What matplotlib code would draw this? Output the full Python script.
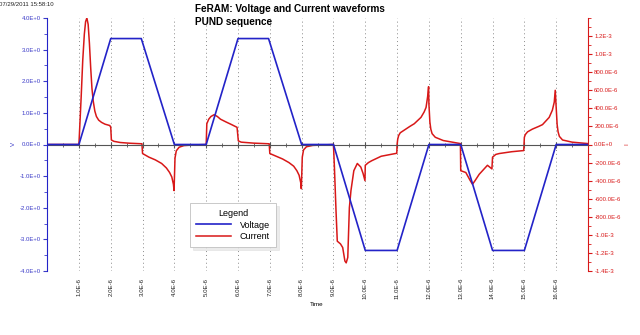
import matplotlib
matplotlib.use('Agg')
import matplotlib.pyplot as plt
from matplotlib.ticker import FuncFormatter, MultipleLocator, FixedLocator
import numpy as np

plt.rcParams['font.family'] = ['Liberation Sans', 'DejaVu Sans']

# voltage ramps of the PUND pulse train (time in us, volts)
volt_t = [0, 1.0, 2.0, 2.96, 4.0, 5.0, 6.0, 6.96, 8.0, 9.0, 10.0, 11.0, 12.0, 13.0, 14.0, 15.0, 16.0, 17.0]
volt_v = [0, 0, 3.35, 3.35, 0, 0, 3.35, 3.35, 0, 0, -3.35, -3.35, 0, 0, -3.35, -3.35, 0, 0]

# switching current (time in us, current in mA)
cur_t = [0, 1.0, 1.03, 1.07, 1.12, 1.17, 1.21, 1.25, 1.29, 1.33, 1.37, 1.41, 1.45, 1.50, 1.55, 1.62,
         1.71, 1.82, 1.97, 2.0, 2.02, 2.1, 2.3, 2.6, 2.98,
         3.0, 3.2, 3.4, 3.6, 3.75, 3.85, 3.92, 3.97, 3.99, 4.02, 4.06, 4.15, 4.3, 4.6, 5.0,
         5.02, 5.08, 5.15, 5.25, 5.35, 5.45, 5.62, 5.8, 5.97, 6.01, 6.1, 6.5, 6.98,
         7.0, 7.2, 7.4, 7.6, 7.75, 7.85, 7.92, 7.97, 7.99, 8.02, 8.06, 8.15, 8.35, 8.7, 9.0,
         9.03, 9.08, 9.12, 9.22, 9.29, 9.36, 9.40, 9.45, 9.50, 9.55, 9.64, 9.75, 9.86, 9.93, 9.99,
         10.0, 10.1, 10.2, 10.5, 10.99, 11.0, 11.02, 11.05, 11.1, 11.23, 11.4, 11.54, 11.75, 11.85,
         11.91, 11.96, 11.99,
         12.0, 12.03, 12.06, 12.1, 12.2, 12.45, 12.99,
         13.0, 13.16, 13.3, 13.37, 13.45, 13.58, 13.84, 13.98, 14.0, 14.1, 14.21, 14.6, 14.98,
         15.0, 15.03, 15.1, 15.25, 15.45, 15.57, 15.78, 15.88, 15.94, 15.97,
         16.0, 16.03, 16.06, 16.1, 16.2, 16.5, 17.0]
cur_ma = [0, 0, 0.22, 0.52, 0.93, 1.22, 1.36, 1.40, 1.33, 1.12, 0.85, 0.62, 0.48, 0.37, 0.31, 0.27,
          0.245, 0.225, 0.21, 0.19, 0.05, 0.035, 0.022, 0.014, 0.008,
          -0.10, -0.14, -0.17, -0.21, -0.26, -0.31, -0.36, -0.44, -0.51, -0.15, -0.07, -0.03, -0.012, -0.005, 0,
          0.23, 0.28, 0.31, 0.33, 0.31, 0.28, 0.25, 0.22, 0.19, 0.04, 0.026, 0.015, 0.008,
          -0.10, -0.13, -0.16, -0.20, -0.24, -0.29, -0.34, -0.42, -0.49, -0.14, -0.06, -0.025, -0.01, -0.005, 0,
          -0.25, -0.73, -1.07, -1.10, -1.14, -1.29, -1.31, -1.25, -0.70, -0.51, -0.29, -0.21, -0.25, -0.32, -0.40,
          -0.23, -0.20, -0.18, -0.13, -0.097, 0.0, 0.06, 0.10, 0.13, 0.16, 0.20, 0.23, 0.30, 0.36,
          0.41, 0.53, 0.64,
          0.45, 0.25, 0.17, 0.12, 0.08, 0.044, 0.01,
          -0.29, -0.31, -0.40, -0.44, -0.40, -0.33, -0.23, -0.27, -0.14, -0.11, -0.10, -0.08, -0.067,
          0.08, 0.11, 0.14, 0.17, 0.20, 0.22, 0.30, 0.38, 0.47, 0.60,
          0.41, 0.22, 0.14, 0.09, 0.05, 0.026, 0.01]

BLUE = '#2323c8'
RED = '#d81818'

fig = plt.figure(figsize=(6.4, 3.35), dpi=100)
ax = fig.add_axes([47.1 / 640, 1 - 271 / 335, (588 - 47.1) / 640, (271 - 18) / 335])
axv = ax.twinx()

# current axis (right side)
ax.plot(np.array(cur_t) * 1e-6, np.array(cur_ma) * 1e-3, color=RED, lw=1.1, label='Current')
ax.set_xlim(0, 17e-6)
ax.set_ylim(-1.4e-3, 1.4e-3)
ax.yaxis.tick_right()
ax.yaxis.set_major_locator(FixedLocator([k * 200e-6 for k in range(-7, 7)]))
ax.yaxis.set_minor_locator(MultipleLocator(100e-6))


def cur_fmt(v, pos):
    if abs(v) < 1e-9:
        return '0.0E+0'
    if abs(v) >= 1e-3 - 1e-9:
        return f'{v * 1e3:.1f}E-3'
    return f'{v * 1e6:.1f}E-6'


ax.yaxis.set_major_formatter(FuncFormatter(cur_fmt))
ax.tick_params(axis='y', which='both', colors=RED, labelsize=4.3, direction='out', pad=1.5)
ax.tick_params(axis='y', which='major', length=3)
ax.tick_params(axis='y', which='minor', length=2)

# time axis: marks on the zero line, labels along the bottom
ax.set_xticks([k * 1e-6 for k in range(1, 17)])
ax.xaxis.set_minor_locator(MultipleLocator(0.5e-6))
ax.xaxis.set_major_formatter(FuncFormatter(lambda v, p: f'{v * 1e6:.1f}E-6'))
ax.tick_params(axis='x', which='both', bottom=False, top=True, labelbottom=True, labeltop=False,
               direction='inout', colors='#555555', labelcolor='#222222', labelsize=4.4,
               labelrotation=90, pad=3)
ax.tick_params(axis='x', which='major', length=4)
ax.tick_params(axis='x', which='minor', length=3)
ax.xaxis.grid(True, which='major', color='#8a8a8a', ls=(0, (1, 3)), lw=0.7)
ax.spines['top'].set_position(('data', 0))
ax.spines['top'].set_color('#555555')
ax.spines['top'].set_linewidth(0.8)
ax.spines['bottom'].set_visible(False)
ax.spines['left'].set_visible(False)
ax.spines['right'].set_color(RED)

# voltage axis (left side)
axv.plot(np.array(volt_t) * 1e-6, volt_v, color=BLUE, lw=1.2, label='Voltage')
axv.set_ylim(-4, 4)
axv.yaxis.tick_left()
axv.yaxis.set_major_locator(MultipleLocator(1))
axv.yaxis.set_minor_locator(MultipleLocator(0.5))
axv.yaxis.set_major_formatter(FuncFormatter(lambda v, p: f'{v:.1f}E+0'))
axv.tick_params(axis='y', which='both', colors='#3b3bc8', labelsize=4.3, direction='out', pad=1.5)
axv.tick_params(axis='y', which='major', length=3)
axv.tick_params(axis='y', which='minor', length=2)
axv.yaxis.grid(True, which='major', color='#8a8a8a', ls=(0, (1, 3)), lw=0.7)
for g in axv.yaxis.get_gridlines():
    if abs(g.get_ydata()[0]) < 1e-9:
        g.set_visible(False)
axv.spines['left'].set_color(BLUE)
axv.spines['right'].set_visible(False)
axv.spines['top'].set_visible(False)
axv.spines['bottom'].set_visible(False)

# texts
fig.text(195 / 640, 1 - 9 / 335, 'FeRAM: Voltage and Current waveforms', fontsize=7.2,
         fontweight='bold', ha='left', va='center')
fig.text(195 / 640, 1 - 22 / 335, 'PUND sequence', fontsize=7.2, fontweight='bold',
         ha='left', va='center')
fig.text(-0.002, 1 - 4 / 335, '07/29/2011 15:58:10', fontsize=4.3, ha='left', va='center',
         color='#222222')
fig.text(317 / 640, 1 - 305 / 335, 'Time', fontsize=4.5, ha='center', va='center')
fig.text(13 / 640, 1 - 144 / 335, 'V', fontsize=4.5, rotation=90, ha='center', va='center',
         color='#3b3bc8')
fig.text(627 / 640, 1 - 144 / 335, 'I', fontsize=4.5, rotation=90, ha='center', va='center',
         color=RED)

handles = axv.get_lines()[:1] + ax.get_lines()[:1]
leg = fig.legend(handles, [h.get_label() for h in handles], title='Legend',
                 loc='upper left', bbox_to_anchor=(190 / 640, 1 - 203 / 335), borderaxespad=0,
                 fontsize=6.5, title_fontsize=6.5, handlelength=3.8, handletextpad=1.0,
                 labelspacing=0.25, borderpad=0.7, fancybox=False,
                 shadow={'color': '#d8d8d8'}, edgecolor='#c0c0c0', framealpha=1)
leg.get_frame().set_linewidth(0.6)

fig.savefig('out.png', dpi=100)
